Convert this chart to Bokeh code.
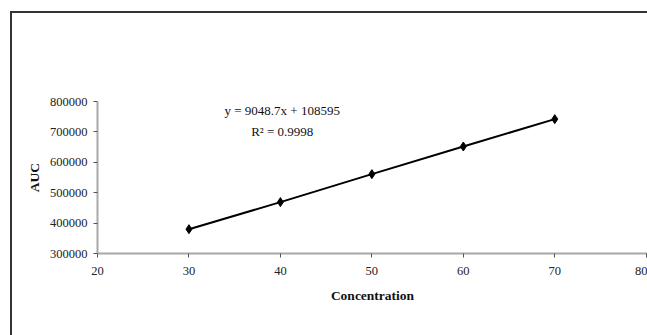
from bokeh.plotting import figure
from bokeh.models import FixedTicker, Range1d, InlineStyleSheet
from bokeh.core.properties import value
from bokeh.embed import file_html
from bokeh.resources import INLINE

# Data
concentration = [30, 40, 50, 60, 70]
auc = [380000, 469000, 561000, 652000, 742000]
x_ticks = [20, 30, 40, 50, 60, 70, 80]
y_ticks = [300000, 400000, 500000, 600000, 700000, 800000]
equation_lines = ["y = 9048.7x + 108595", "R\u00b2 = 0.9998"]
equation_x = [40.2, 40.2]
equation_y = [769500, 701700]

FONT = "Liberation Serif"

border_css = InlineStyleSheet(css="""
:host::after {
  content: "";
  position: absolute;
  left: 10px;
  top: 11px;
  width: 700px;
  height: 400px;
  border-top: 2px solid #333333;
  border-left: 2px solid #333333;
  pointer-events: none;
  z-index: 10;
}
""")

p = figure(width=647, height=335, output_backend="svg", toolbar_location=None,
           x_range=Range1d(20, 80.14), y_range=Range1d(300000, 800000),
           min_border_left=97, min_border_top=101, min_border_bottom=82,
           min_border_right=0, stylesheets=[border_css])
p.outline_line_color = None
p.xgrid.visible = False
p.ygrid.visible = False
p.background_fill_color = "white"
p.border_fill_color = "white"

for ax in (p.xaxis[0], p.yaxis[0]):
    ax.axis_line_color = "#a8a8a8"
    ax.axis_line_width = 2
    ax.major_tick_line_color = "#555555"
    ax.major_tick_line_width = 1
    ax.major_tick_in = 0
    ax.major_tick_out = 4
    ax.minor_tick_line_color = None
    ax.major_label_text_font = FONT
    ax.major_label_text_font_size = "12.5px"
    ax.major_label_text_color = "#222222"
    ax.axis_label_text_font = FONT
    ax.axis_label_text_font_size = "13.5px"
    ax.axis_label_text_font_style = "bold"
    ax.axis_label_text_color = "#111111"

p.xaxis.ticker = FixedTicker(ticks=x_ticks)
p.yaxis.ticker = FixedTicker(ticks=y_ticks)
p.xaxis.axis_label = "Concentration"
p.yaxis.axis_label = "AUC"
p.xaxis.major_label_standoff = 9
p.yaxis.major_label_standoff = 6
p.xaxis.axis_label_standoff = 10
p.yaxis.axis_label_standoff = 5
p.yaxis.formatter.use_scientific = False

p.line(concentration, auc, line_color="black", line_width=2)
p.scatter(concentration, auc, marker="diamond", size=9, fill_color="black",
          line_color="black")

p.text(x=equation_x, y=equation_y, text=equation_lines,
       text_font=value(FONT), text_font_size="13px", text_color="#111111",
       text_align="center", text_baseline="middle")

open("out.html", "w").write(file_html(p, INLINE))
